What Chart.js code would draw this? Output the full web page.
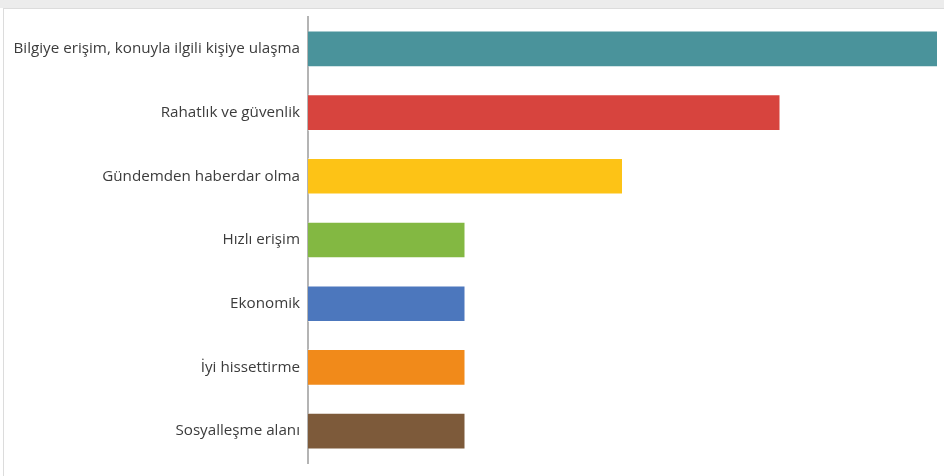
<!DOCTYPE html>
<html>
<head>
<meta charset="utf-8">
<script src="https://cdn.jsdelivr.net/npm/chart.js@4/dist/chart.umd.min.js"></script>
<style>
  html, body { margin: 0; padding: 0; background: #ffffff; }
  body { width: 944px; height: 476px; overflow: hidden; position: relative; }
  .band { position: absolute; left: 0; top: 0; width: 944px; height: 8px; background: #ececec; }
  .frame { position: absolute; left: 3px; top: 8px; width: 950px; height: 480px;
           border-left: 1px solid #dcdcdc; border-top: 1px solid #dcdcdc; background: #fff; }
  #wrap { position: absolute; left: 0; top: 0; width: 944px; height: 476px; }
</style>
</head>
<body>
<div class="band"></div>
<div class="frame"></div>
<div id="wrap"><canvas id="c" width="944" height="476"></canvas></div>
<script>
const categories = [
  'Bilgiye erişim, konuyla ilgili kişiye ulaşma',
  'Rahatlık ve güvenlik',
  'Gündemden haberdar olma',
  'Hızlı erişim',
  'Ekonomik',
  'İyi hissettirme',
  'Sosyalleşme alanı'
];
const counts = [4, 3, 2, 1, 1, 1, 1];
const barColors = ['#4a939b', '#d7443e', '#fdc316', '#83b842', '#4c77bd', '#f18a1a', '#7d5a3a'];

new Chart(document.getElementById('c'), {
  type: 'bar',
  data: {
    labels: categories,
    datasets: [{
      data: counts,
      backgroundColor: barColors,
      borderColor: 'rgba(255,255,255,0.45)',
      borderWidth: 1,
      categoryPercentage: 1,
      barPercentage: 0.575
    }]
  },
  options: {
    indexAxis: 'y',
    responsive: false,
    animation: false,
    layout: { padding: { left: 0, right: 6, top: 17, bottom: 13 } },
    plugins: { legend: { display: false }, tooltip: { enabled: false } },
    scales: {
      x: { display: false, min: 0, max: 4 },
      y: {
        grid: { display: false, drawTicks: false },
        border: { display: true, color: '#b4b4b4', width: 2 },
        ticks: {
          color: '#3c3c3c',
          padding: 8,
          font: { family: 'Open Sans', size: 15.2 }
        },
        afterFit(scale) {
          // fixed label column; the plot area is set by the layout padding alone
          scale.width = 308;
          scale.paddingTop = 0;
          scale.paddingBottom = 0;
        }
      }
    }
  }
});
</script>
</body>
</html>
